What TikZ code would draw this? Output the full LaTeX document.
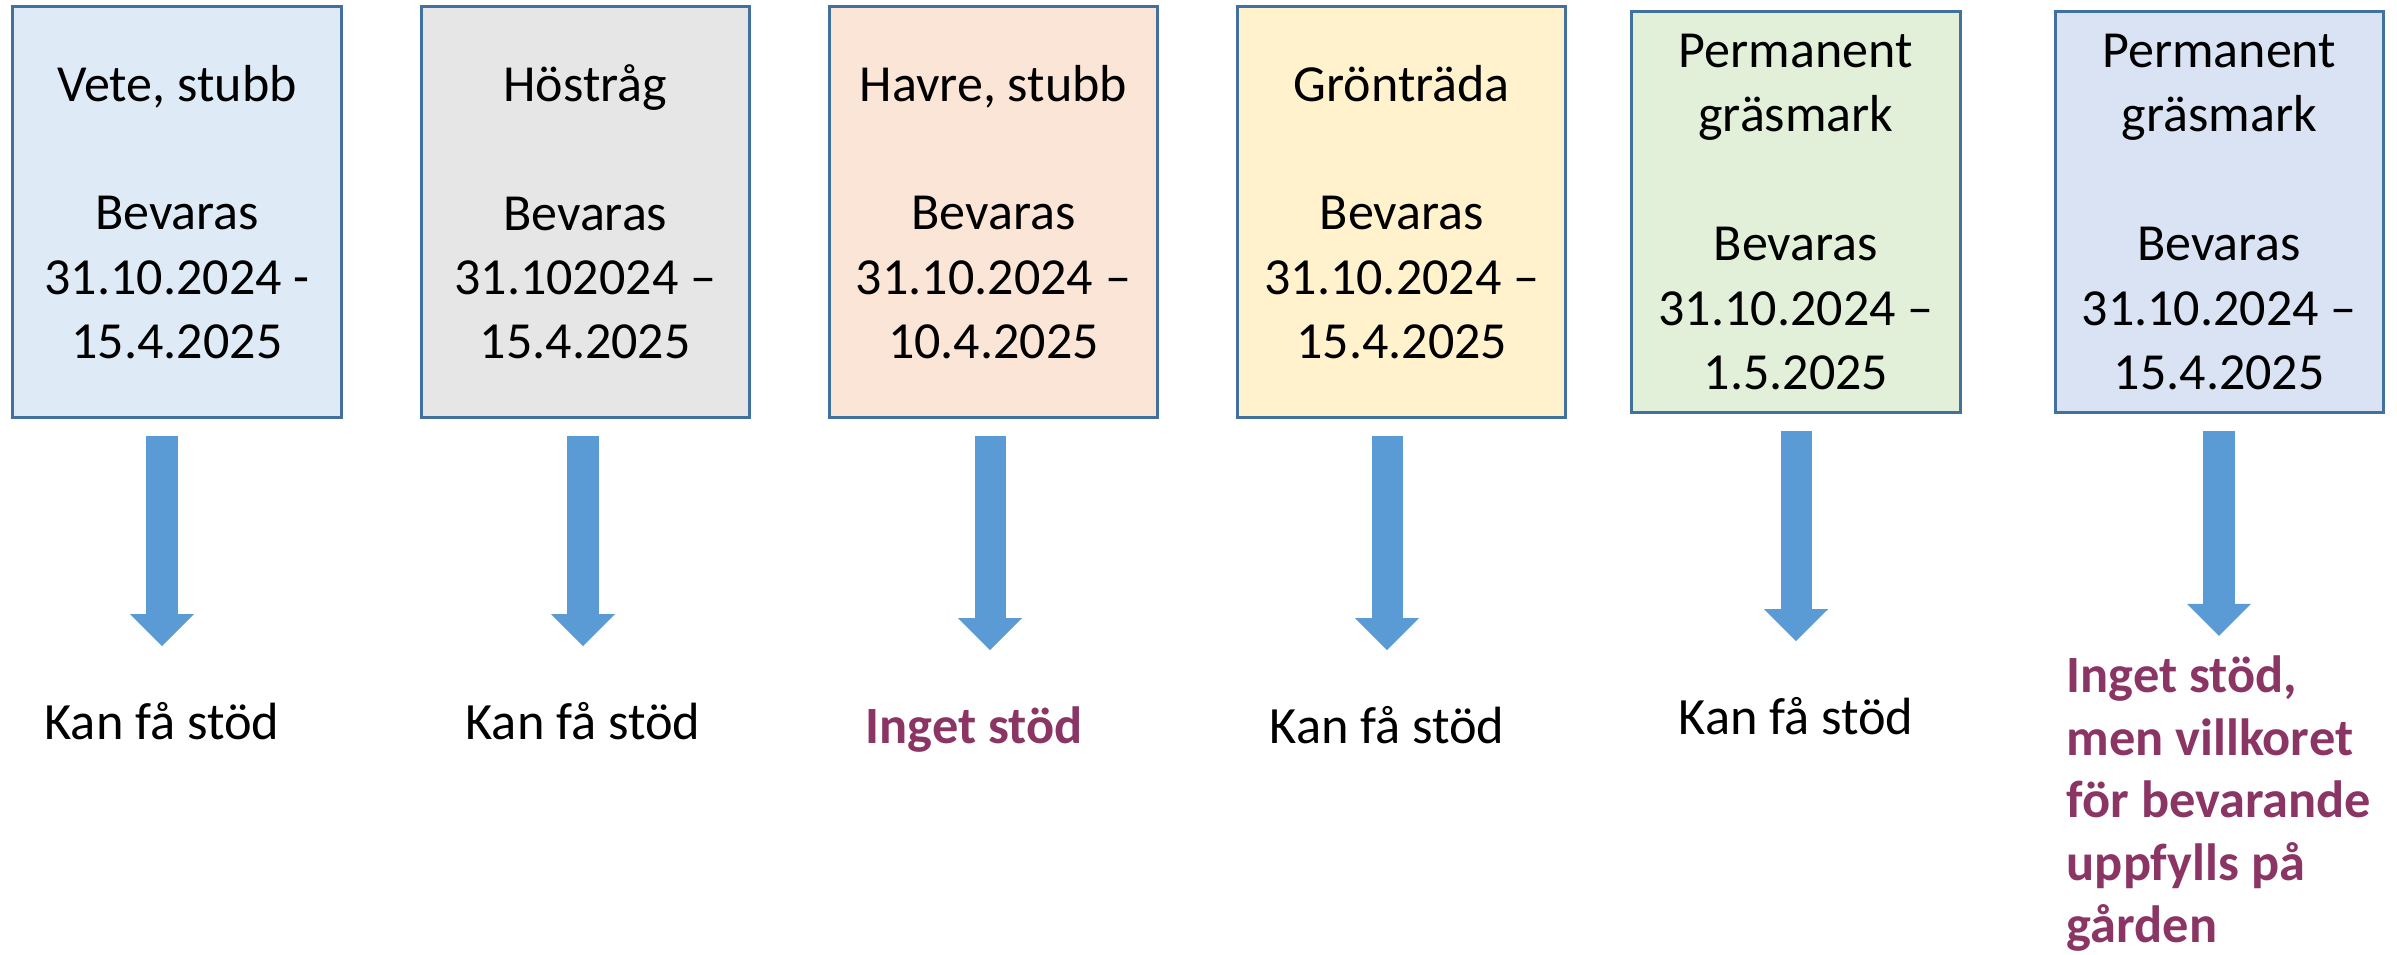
\documentclass[tikz,border=0pt]{standalone}
\usepackage{fontspec}
\setmainfont{Carlito}
\usepackage{tikz}
\usetikzlibrary{arrows.meta}

\definecolor{boxedge}{HTML}{41719C}
\definecolor{arrowblue}{HTML}{5B9BD5}
\definecolor{noaid}{RGB}{139,53,101}
\definecolor{fillvete}{HTML}{DEEBF7}
\definecolor{fillrag}{HTML}{E7E6E6}
\definecolor{fillhavre}{HTML}{FBE5D6}
\definecolor{fillgron}{HTML}{FFF2CC}
\definecolor{fillgras}{HTML}{E2F0D9}
\definecolor{fillgrastwo}{HTML}{DAE3F3}

\begin{document}
\begin{tikzpicture}[x=0.01cm, y=-0.01cm, node distance=4.08cm]
	\tikzstyle{crop} = [rectangle, draw=boxedge, line width=0.03cm, minimum width=3.28cm, minimum height=4.11cm, inner sep=0pt, align=center, font=\fontsize{14.8pt}{18.3pt}\selectfont];
	\tikzstyle{result} = [inner sep=0pt, text height=0.39cm, text depth=0.13cm, font=\fontsize{14.9pt}{18pt}\selectfont];
	\tikzstyle{noresult} = [result, text=noaid, font=\fontsize{14.9pt}{18pt}\selectfont\bfseries];
	\tikzstyle{blockarrow} = [draw=arrowblue, line width=0.31cm, -{Triangle[width=0.62cm,length=0.32cm]}, shorten <=0.17cm, shorten >=0.53cm];
	\useasboundingbox (0,0) rectangle (2397,955);

	\node[crop, fill=fillvete] (b1) at (177,212) {Vete, stubb\\~\\Bevaras\\31.10.2024 -\\15.4.2025};
	\node[crop, fill=fillrag] (b2) [right of=b1] {Höstråg\\~\\Bevaras\\31.102024 –\\15.4.2025};
	\node[crop, fill=fillhavre] (b3) [right of=b2] {Havre, stubb\\~\\Bevaras\\31.10.2024 –\\10.4.2025};
	\node[crop, fill=fillgron] (b4) [right of=b3] {Grönträda\\~\\Bevaras\\31.10.2024 –\\15.4.2025};
	\node[crop, fill=fillgras, minimum height=4.01cm] (b5) [right of=b4, xshift=-0.14cm] {Permanent\\gräsmark\\~\\Bevaras\\31.10.2024 –\\1.5.2025};
	\node[crop, fill=fillgrastwo, minimum height=4.01cm] (b6) [right of=b5, node distance=4.23cm] {Permanent\\gräsmark\\~\\Bevaras\\31.10.2024 –\\15.4.2025};

	\node[result] (t1) at (162,726) {Kan få stöd};
	\node[result] (t2) at (583,726) {Kan få stöd};
	\node[noresult] (t3) at (974,730) {Inget stöd};
	\node[result] (t4) at (1387,730) {Kan få stöd};
	\node[result] (t5) at (1796,721) {Kan få stöd};
	\node[noaid, inner sep=0pt, align=left, anchor=north west, font=\fontsize{14.9pt}{17.8pt}\selectfont\bfseries] (t6) at (2066,655) {Inget stöd,\\men villkoret\\för bevarande\\uppfylls på\\gården};

	\path (t1 |- b1.south) edge[blockarrow] (t1.north);
	\path (t2 |- b2.south) edge[blockarrow] (t2.north);
	\path ([xshift=0.16cm]t3 |- b3.south) edge[blockarrow] ([xshift=0.16cm]t3.north);
	\path (t4 |- b4.south) edge[blockarrow] (t4.north);
	\path (t5 |- b5.south) edge[blockarrow] (t5.north);
	\path (t6 |- b6.south) edge[blockarrow, shorten >=0.19cm] (t6.north);
\end{tikzpicture}
\end{document}
